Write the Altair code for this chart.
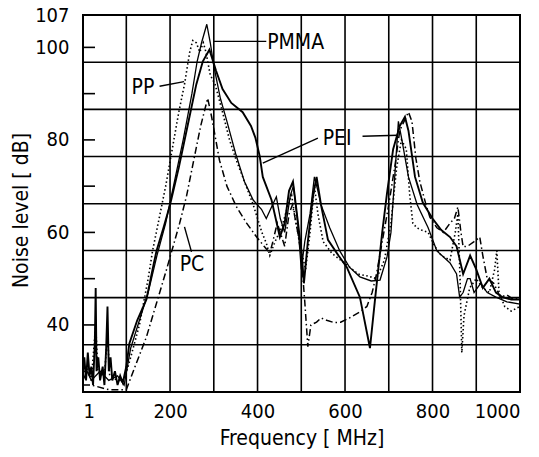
import altair as alt
import pandas as pd

# ---- measured spectra: frequency [MHz] and noise level [dB] per material ----
pei_f = [1, 4, 8, 12, 16, 20, 24, 28, 30, 32, 36, 40, 46, 50, 54, 57, 60, 64, 68, 74, 80, 86, 92,
         100, 107, 125, 146, 160, 169, 185, 200, 220, 240, 260, 275, 290, 305, 320, 340, 366, 385,
         395, 405, 412, 432, 451, 462, 472, 481, 490, 501, 506, 515, 527, 535, 545, 561, 585, 604,
         634, 657, 668, 685, 696, 710, 725, 737, 745, 760, 778, 800, 820, 840, 855, 870, 886, 900,
         915, 930, 945, 960, 980, 1000]
pei_db = [30, 33, 28, 34, 29, 31, 27, 36, 48, 30, 33, 28, 31, 27, 35, 44, 30, 33, 28, 30, 27, 29, 27.5,
          31, 36, 41, 45.5, 52, 56, 61, 66, 74, 83, 92, 97, 99.5, 95, 91, 88, 86, 83,
          80.5, 76.5, 72, 67, 59, 62, 69, 71, 64, 55.5, 49, 58, 68, 72, 66, 58.4, 55, 52.5,
          46, 35, 45, 60, 68.5, 78, 83, 85, 82, 72, 66.4, 63, 60.5, 59, 57, 51, 55, 52,
          48, 50, 47, 46, 45.5, 45.5]

pmma_f = [1, 10, 20, 40, 60, 80, 95, 110, 130, 150, 170, 190, 210, 230, 250, 262, 272, 284, 292,
          300, 315, 330, 350, 370, 390, 409, 420, 432, 443, 452, 462, 475, 482, 492, 500, 508, 520,
          530, 538, 545, 565, 588, 610, 634, 660, 680, 696, 705, 715, 722, 730, 745, 765, 790, 810,
          840, 855, 862, 870, 880, 886, 895, 910, 925, 945, 970, 1000]
pmma_db = [28, 30, 28, 30, 28, 29, 27, 35, 41, 47, 55, 62, 71, 80, 90, 97, 101, 105, 101,
           96, 89, 84, 77, 71, 67, 65, 63, 65.5, 67.7, 63, 60, 68, 70, 62, 52, 58, 64,
           72, 69, 66, 61, 56, 52.5, 50.4, 49.5, 49.7, 54.7, 60, 74, 84, 80, 72, 66, 61, 56,
           53.4, 51, 46, 47, 50, 50, 47, 49, 47, 46, 45, 44.5]

pp_f = [1, 10, 20, 30, 35, 50, 57, 62, 80, 95, 110, 130, 150, 160, 175, 190, 205, 220, 233, 245,
        252, 260, 268, 276, 282, 292, 303, 320, 336, 350, 370, 390, 410, 420, 428, 440, 455, 470,
        478, 488, 500, 510, 520, 530, 538, 550, 570, 590, 604, 630, 655, 672, 690, 705, 718, 729,
        740, 748, 755, 764, 775, 790, 805, 820, 840, 852, 858, 863, 867, 872, 885, 900, 915, 930,
        942, 947, 952, 965, 980, 1000]
pp_db = [29, 31, 28, 40, 30, 29, 38, 29, 28, 28, 33, 40, 50, 56, 63, 70, 78, 86, 92, 99,
         101.5, 101, 99, 101, 99, 94, 92, 86, 80, 76, 71, 66, 60, 57.7, 55, 58, 61, 66,
         68, 62, 56, 52, 60, 70, 64, 58, 55.5, 54, 53, 51, 50.5, 50, 54, 62, 74, 80,
         78, 68, 62, 61, 60.5, 60, 57, 55, 54, 60, 64, 50, 34, 42, 48, 50, 48, 47,
         52, 56, 47, 44, 43, 44]

pc_f = [1, 20, 60, 100, 120, 146, 170, 192, 222, 238, 255, 270, 286, 295, 313, 330, 352, 375, 398,
        415, 428, 435, 445, 452, 462, 472, 480, 492, 500, 508, 515, 522, 535, 545, 558, 575, 590,
        610, 634, 650, 662, 672, 685, 700, 715, 725, 735, 745, 753, 762, 771, 785, 794, 810, 825,
        840, 850, 858, 865, 870, 880, 895, 908, 915, 925, 940, 955, 970, 985, 1000]
pc_db = [27, 27, 26, 26, 31, 37.4, 45, 52, 62, 68, 76, 83, 89, 85, 75.6, 70, 65.5, 62, 59,
         57, 55.5, 58, 62, 60, 57, 64, 66, 60, 55, 45, 35.3, 40, 40.6, 41.5, 41, 40.5, 40.6,
         41.5, 42.8, 44, 47, 51, 58, 66, 75, 82, 84, 86, 84, 76, 71, 66, 63.3, 61, 60,
         62, 63, 65.5, 60, 56.9, 57, 58, 59, 55, 50, 49, 46, 46.5, 45.5, 45.8]

# ---- axes and graph-paper grid ----
x_labels = [1, 200, 400, 600, 800, 1000]
y_labels = [40, 60, 80, 100, 107]
y_ticks = [40, 50, 60, 70, 80, 90, 100]
x_grid = [100, 200, 300, 400, 500, 600, 700, 800, 900]
y_grid = [35.7, 45.9, 56.1, 66.2, 76.4, 86.6, 96.8]

# ---- curve labels with their leader lines ----
label_text = ["PMMA", "PP", "PEI", "PC"]
label_f = [422, 112, 549, 222]
label_db = [101.0, 91.3, 80.2, 53.0]
leader_f = [300, 176, 538, 640, 249]
leader_f2 = [420, 232, 412, 721, 233]
leader_db = [101.3, 91.6, 80.4, 80.8, 55.8]
leader_db2 = [101.3, 92.6, 75.0, 81.0, 61.2]

FONT = "DejaVu Sans Condensed, DejaVu Sans, sans-serif"

x_scale = alt.Scale(domain=[1, 1000], nice=False, zero=False)
y_scale = alt.Scale(domain=[25.5, 107], nice=False, zero=False)

x_axis = alt.Axis(values=x_labels, format="d", ticks=False, grid=False, domain=False,
                  labelFontSize=20, labelPadding=9, labelFont=FONT, labelColor="black",
                  title="Frequency [ MHz]", titleFont=FONT, titleFontSize=21,
                  titleFontWeight="normal", titleColor="black", titlePadding=6)
y_axis = alt.Axis(values=y_labels, ticks=False, grid=False, domain=False,
                  labelFontSize=20, labelPadding=14, labelFont=FONT, labelColor="black",
                  title="Noise  level [ dB]", titleFont=FONT, titleFontSize=21,
                  titleFontWeight="normal", titleColor="black",
                  titleX=-62, titleY=195, titleAngle=270, titleAlign="center",
                  titleBaseline="middle")


def series(freqs, levels):
    return pd.DataFrame({"f": freqs, "db": levels})


vgrid = alt.Chart(pd.DataFrame({"f": x_grid})).mark_rule(
    color="black", strokeWidth=1.6
).encode(x=alt.X("f:Q", scale=x_scale, axis=x_axis))

hgrid = alt.Chart(pd.DataFrame({"db": y_grid})).mark_rule(
    color="black", strokeWidth=1.6
).encode(y=alt.Y("db:Q", scale=y_scale, axis=y_axis))

inner_ticks = alt.Chart(pd.DataFrame({"db": y_ticks})).mark_rule(
    color="black", strokeWidth=1.6
).encode(y=alt.Y("db:Q", scale=y_scale), x=alt.value(0), x2=alt.value(12))


def curve(df, width, dash=None):
    kw = dict(color="black", strokeWidth=width, interpolate="linear")
    if dash is not None:
        kw["strokeDash"] = dash
    return alt.Chart(df).mark_line(**kw).encode(
        x=alt.X("f:Q", scale=x_scale),
        y=alt.Y("db:Q", scale=y_scale),
        order="f:Q",
    )


pei = curve(series(pei_f, pei_db), 1.9)
pmma = curve(series(pmma_f, pmma_db), 1.3)
pp = curve(series(pp_f, pp_db), 1.6, [1.5, 2.5])
pc = curve(series(pc_f, pc_db), 1.5, [7, 3, 1.5, 3])

leaders = alt.Chart(pd.DataFrame({
    "f": leader_f, "f2": leader_f2, "db": leader_db, "db2": leader_db2
})).mark_rule(color="black", strokeWidth=1.4).encode(
    x=alt.X("f:Q", scale=x_scale), x2="f2:Q",
    y=alt.Y("db:Q", scale=y_scale), y2="db2:Q",
)

labels = alt.Chart(pd.DataFrame({
    "t": label_text, "f": label_f, "db": label_db
})).mark_text(
    font=FONT, fontSize=21, color="black", align="left", baseline="middle"
).encode(
    x=alt.X("f:Q", scale=x_scale),
    y=alt.Y("db:Q", scale=y_scale),
    text="t:N",
)

chart = alt.layer(
    vgrid, hgrid, inner_ticks, pc, pp, pmma, pei, leaders, labels
).properties(
    width=437, height=377,
    padding={"left": 83, "top": 15, "right": 19, "bottom": 65},
    autosize=alt.AutoSizeParams(type="none"),
    background="white",
).configure_view(
    stroke="black", strokeWidth=2
)

chart.save("out.html", embed_options={"renderer": "svg", "actions": False})
